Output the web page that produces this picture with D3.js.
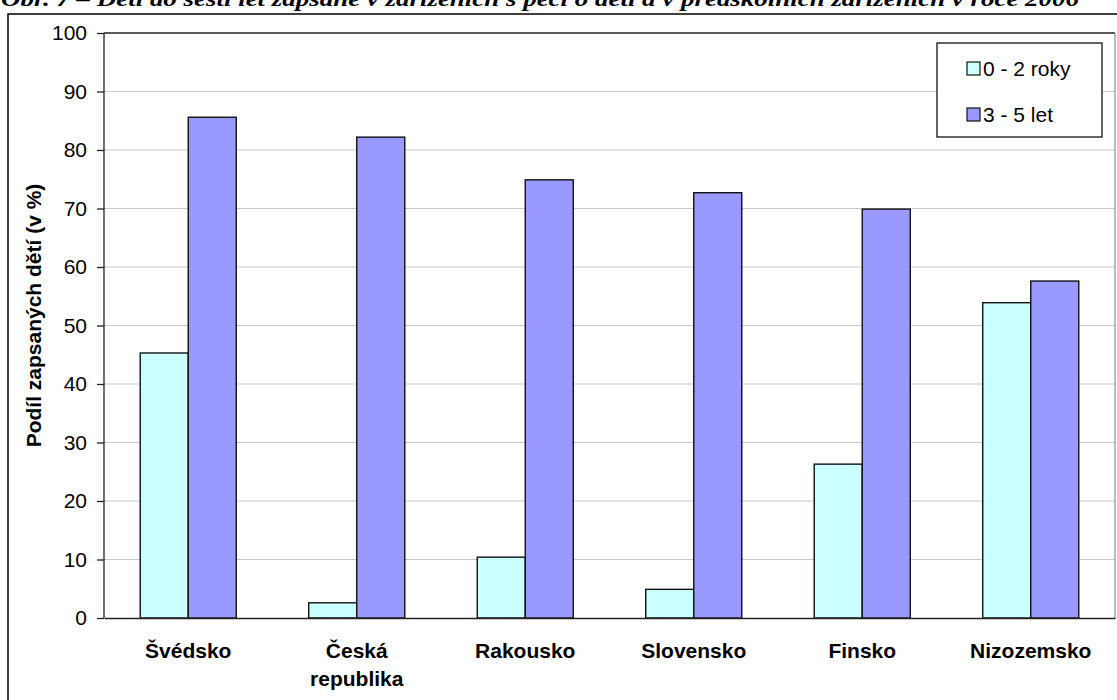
<!DOCTYPE html>
<html>
<head>
<meta charset="utf-8">
<script src="https://cdn.jsdelivr.net/npm/d3@7"></script>
<style>
html,body{margin:0;padding:0;background:#fff;overflow:hidden;}
svg{display:block;}
</style>
</head>
<body>
<svg id="chart" width="1117" height="700"></svg>
<script>
const titleText = "Obr. 7 – Děti do šesti let zapsané v zařízeních s péčí o děti a v předškolních zařízeních v roce 2006";
const categories = ["Švédsko", "Česká republika", "Rakousko", "Slovensko", "Finsko", "Nizozemsko"];
const categoryLines = [["Švédsko"], ["Česká", "republika"], ["Rakousko"], ["Slovensko"], ["Finsko"], ["Nizozemsko"]];
const seriesNames = ["0 - 2 roky", "3 - 5 let"];
const values0to2 = [45.3, 2.6, 10.4, 4.9, 26.3, 53.9];
const values3to5 = [85.6, 82.2, 74.9, 72.7, 69.9, 57.6];
const yTicks = [0, 10, 20, 30, 40, 50, 60, 70, 80, 90, 100];
const yTitle = "Podíl zapsaných dětí (v %)";
const colors = ["#CCFFFF", "#9999FF"];

const svg = d3.select("#chart");
const font = "Liberation Sans, Arial, sans-serif";

// title (partially clipped at top as in the reference)
svg.append("text")
  .attr("x", 1).attr("y", 6)
  .attr("font-family", "Liberation Serif, Times New Roman, serif")
  .attr("font-weight", "bold").attr("font-style", "italic")
  .attr("font-size", 21)
  .attr("textLength", 1078).attr("lengthAdjust", "spacingAndGlyphs")
  .attr("fill", "#000")
  .text(titleText);

// outer chart border
svg.append("rect")
  .attr("x", 8).attr("y", 14).attr("width", 1130).attr("height", 720)
  .attr("fill", "none").attr("stroke", "#000").attr("stroke-width", 1.5);

const plot = {left: 104, right: 1115, top: 33, bottom: 618};

const x = d3.scaleBand().domain(categories)
  .range([plot.left, plot.right]).paddingInner(0.43).paddingOuter(0.215);
const xs = d3.scaleBand().domain(seriesNames).range([0, x.bandwidth()]);
const y = d3.scaleLinear().domain([0, 100]).range([plot.bottom, plot.top]);

// gridlines
svg.append("g").selectAll("line").data(yTicks.filter(t => t > 0 && t < 100)).join("line")
  .attr("x1", plot.left).attr("x2", plot.right)
  .attr("y1", d => y(d)).attr("y2", d => y(d))
  .attr("stroke", "#c8c8c8").attr("stroke-width", 1.2);

// plot border top/right
svg.append("line").attr("x1", plot.left).attr("x2", plot.right)
  .attr("y1", y(100)).attr("y2", y(100)).attr("stroke", "#222").attr("stroke-width", 1.3);
svg.append("line").attr("x1", plot.right).attr("x2", plot.right)
  .attr("y1", plot.top).attr("y2", plot.bottom).attr("stroke", "#999").attr("stroke-width", 1.3);

// bars
const rows = categories.map((c, i) => ({cat: c, vals: [values0to2[i], values3to5[i]]}));
const groups = svg.append("g").selectAll("g").data(rows).join("g")
  .attr("transform", d => `translate(${x(d.cat)},0)`);
groups.selectAll("rect").data(d => d.vals.map((v, j) => ({s: seriesNames[j], v, j}))).join("rect")
  .attr("x", d => xs(d.s)).attr("width", xs.bandwidth())
  .attr("y", d => y(d.v)).attr("height", d => y(0) - y(d.v))
  .attr("fill", d => colors[d.j]).attr("stroke", "#111").attr("stroke-width", 1.4);

// y axis
const yAxis = d3.axisLeft(y).tickValues(yTicks).tickSize(7).tickPadding(10).tickFormat(d3.format("d"));
const ya = svg.append("g").attr("transform", `translate(${plot.left},0)`).call(yAxis);
ya.select(".domain").remove();
ya.selectAll("line").attr("stroke", "#222").attr("stroke-width", 1.3);
ya.selectAll("text").attr("font-family", font).attr("font-size", 21).attr("fill", "#000");
svg.append("line").attr("x1", plot.left).attr("x2", plot.left)
  .attr("y1", plot.top).attr("y2", plot.bottom).attr("stroke", "#222").attr("stroke-width", 1.3);

// x axis
const xAxis = d3.axisBottom(x).tickSize(0).tickFormat("");
const xa = svg.append("g").attr("transform", `translate(0,${plot.bottom})`).call(xAxis);
xa.select(".domain").attr("stroke", "#222").attr("stroke-width", 1.3);
xa.selectAll(".tick").each(function(d, i) {
  const t = d3.select(this).append("text")
    .attr("text-anchor", "middle").attr("font-family", font)
    .attr("font-weight", "bold").attr("font-size", 21).attr("fill", "#000");
  categoryLines[i].forEach((ln, k) => {
    t.append("tspan").attr("x", 0).attr("y", 40 + k * 28).text(ln);
  });
});

// y axis title
svg.append("text")
  .attr("transform", `translate(41,${(plot.top + plot.bottom) / 2 - 10}) rotate(-90)`)
  .attr("text-anchor", "middle").attr("font-family", font)
  .attr("font-weight", "bold").attr("font-size", 21).attr("fill", "#000")
  .text(yTitle);

// legend
const lg = svg.append("g").attr("transform", "translate(937,43)");
lg.append("rect").attr("width", 165).attr("height", 94)
  .attr("fill", "#fff").attr("stroke", "#111").attr("stroke-width", 1.3);
const li = lg.selectAll("g").data(seriesNames).join("g")
  .attr("transform", (d, i) => `translate(30,${26 + i * 46})`);
li.append("rect").attr("x", 0).attr("y", -7).attr("width", 13).attr("height", 13)
  .attr("fill", (d, i) => colors[i]).attr("stroke", "#111").attr("stroke-width", 1.2);
li.append("text").attr("x", 16).attr("y", 0).attr("dy", "0.35em")
  .attr("font-family", font).attr("font-size", 21).attr("fill", "#000")
  .text(d => d);
</script>
</body>
</html>
